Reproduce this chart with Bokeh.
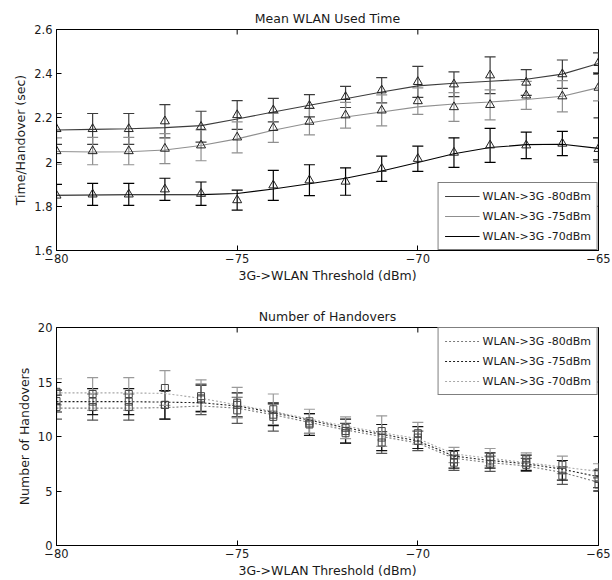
import math
from bokeh.plotting import figure
from bokeh.models import ColumnDataSource, Whisker, TeeHead, FixedTicker, Range1d
from bokeh.layouts import column
from bokeh.embed import file_html
from bokeh.resources import INLINE

# ---------------- data ----------------
thresholds = [-80, -79, -78, -77, -76, -75, -74, -73, -72, -71, -70, -69, -68, -67, -66, -65]
series_names = ["WLAN->3G -80dBm", "WLAN->3G -75dBm", "WLAN->3G -70dBm"]

# Mean WLAN used time (sec) - measured points
time_80 = [2.15, 2.15, 2.15, 2.185, 2.16, 2.213, 2.235, 2.255, 2.295, 2.325, 2.363, 2.352, 2.393, 2.36, 2.398, 2.449]
time_75 = [2.05, 2.05, 2.05, 2.061, 2.076, 2.112, 2.155, 2.183, 2.212, 2.234, 2.276, 2.249, 2.259, 2.302, 2.298, 2.337]
time_70 = [1.849, 1.854, 1.854, 1.877, 1.857, 1.828, 1.895, 1.918, 1.912, 1.97, 2.015, 2.043, 2.076, 2.076, 2.084, 2.06]
# smoothed curves (read at each threshold)
time_fit_80 = [2.145, 2.148, 2.151, 2.156, 2.165, 2.195, 2.227, 2.257, 2.287, 2.317, 2.345, 2.357, 2.366, 2.375, 2.398, 2.446]
time_fit_75 = [2.048, 2.046, 2.047, 2.055, 2.075, 2.105, 2.144, 2.177, 2.204, 2.227, 2.25, 2.263, 2.272, 2.283, 2.298, 2.337]
time_fit_70 = [1.85, 1.851, 1.852, 1.852, 1.853, 1.858, 1.878, 1.902, 1.927, 1.96, 1.998, 2.038, 2.066, 2.079, 2.081, 2.062]
# error half-widths
time_err_80 = [0.07, 0.07, 0.07, 0.075, 0.07, 0.065, 0.053, 0.05, 0.048, 0.057, 0.07, 0.056, 0.083, 0.058, 0.064, 0.045]
time_err_75 = [0.06, 0.062, 0.062, 0.068, 0.07, 0.07, 0.066, 0.06, 0.058, 0.07, 0.06, 0.065, 0.068, 0.063, 0.071, 0.06]
time_err_70 = [0.05, 0.05, 0.05, 0.05, 0.053, 0.045, 0.068, 0.07, 0.062, 0.057, 0.057, 0.067, 0.077, 0.06, 0.055, 0.05]

# Number of handovers - measured points
ho_80 = [12.7, 12.7, 12.7, 12.9, 13.4, 12.4, 11.8, 11.2, 10.3, 9.45, 9.6, 7.6, 7.5, 7.4, 6.4, 5.6]
ho_75 = [13.25, 13.2, 13.2, 12.9, 13.5, 12.9, 12.0, 11.1, 10.5, 9.9, 9.9, 7.9, 7.8, 7.6, 6.9, 6.1]
ho_70 = [14.1, 13.9, 13.9, 14.45, 13.7, 13.1, 12.5, 11.4, 10.8, 10.5, 10.3, 8.3, 8.1, 7.9, 7.4, 6.7]
ho_fit_80 = [12.6, 12.6, 12.6, 12.65, 12.8, 12.6, 12.0, 11.3, 10.6, 10.0, 9.4, 8.0, 7.6, 7.3, 6.7, 5.8]
ho_fit_75 = [13.2, 13.2, 13.2, 13.15, 13.1, 12.8, 12.2, 11.5, 10.8, 10.2, 9.6, 8.2, 7.8, 7.5, 7.0, 6.3]
ho_fit_70 = [14.0, 14.0, 14.0, 13.95, 13.5, 12.9, 12.3, 11.6, 10.95, 10.35, 9.8, 8.4, 8.0, 7.6, 7.2, 6.8]
ho_err_80 = [1.1, 1.2, 1.2, 1.3, 1.4, 1.2, 1.3, 0.9, 0.9, 1.0, 0.9, 0.7, 0.7, 0.6, 0.8, 0.6]
ho_err_75 = [1.0, 1.2, 1.2, 1.3, 1.2, 1.1, 1.0, 1.0, 1.1, 1.2, 1.0, 0.8, 0.7, 0.7, 0.9, 0.8]
ho_err_70 = [1.2, 1.5, 1.5, 1.6, 1.5, 1.4, 1.4, 1.1, 1.0, 1.4, 1.0, 0.7, 0.8, 0.6, 0.8, 0.8]

x_ticks = [-80, -75, -70, -65]
time_ticks = [1.6, 1.8, 2.0, 2.2, 2.4, 2.6]
time_tick_labels = ["1.6", "1.8", "2", "2.2", "2.4", "2.6"]
ho_ticks = [0, 5, 10, 15, 20]

FONT = "DejaVu Sans"
TXT = "#1a1a1a"


def style(p, yticks, ylabels=None, ylabel_standoff=4):
    p.xgrid.visible = False
    p.ygrid.visible = False
    p.outline_line_color = "black"
    p.outline_line_width = 1
    p.title.text_font = FONT
    p.title.text_font_size = "12.5px"
    p.title.text_font_style = "normal"
    p.title.text_color = TXT
    p.title.align = "center"
    p.title.standoff = 8
    for ax in (p.xaxis[0], p.yaxis[0]):
        ax.axis_label_text_font = FONT
        ax.axis_label_text_font_size = "12.5px"
        ax.axis_label_text_font_style = "normal"
        ax.axis_label_text_color = TXT
        ax.major_label_text_font = FONT
        ax.major_label_text_font_size = "11.5px"
        ax.major_label_text_color = TXT
        ax.major_tick_in = 5
        ax.major_tick_out = 0
        ax.minor_tick_line_color = None
        ax.axis_line_color = "black"
        ax.major_tick_line_color = "black"
    p.xaxis[0].ticker = FixedTicker(ticks=x_ticks)
    p.yaxis[0].ticker = FixedTicker(ticks=yticks)
    p.xaxis[0].major_label_standoff = 3
    p.yaxis[0].major_label_standoff = 4
    p.xaxis[0].axis_label_standoff = 2
    p.yaxis[0].axis_label_standoff = ylabel_standoff
    if ylabels is not None:
        p.yaxis[0].major_label_overrides = dict(zip(yticks, ylabels))
    # mirrored inward tick marks on the top and right frame edges
    p.ray(x=x_ticks, y=[p.y_range.end] * len(x_ticks), length=5, length_units="screen",
          angle=-math.pi / 2, line_color="black", line_width=1)
    p.ray(x=[p.x_range.end] * len(yticks), y=yticks, length=5, length_units="screen",
          angle=math.pi, line_color="black", line_width=1)


def legend_style(p, loc):
    lg = p.legend[0]
    lg.location = loc
    lg.margin = 0
    lg.padding = 6
    lg.spacing = 6
    lg.label_height = 14
    lg.glyph_height = 14
    lg.glyph_width = 35
    lg.label_standoff = 3
    lg.label_text_font = FONT
    lg.label_text_font_size = "11px"
    lg.label_text_color = TXT
    lg.border_line_color = "black"
    lg.border_line_width = 1
    lg.background_fill_alpha = 1


# ---------------- top figure ----------------
p1 = figure(width=612, height=290, output_backend="svg", toolbar_location=None,
            title="Mean WLAN Used Time", x_range=Range1d(-80, -65), y_range=Range1d(1.6, 2.6),
            x_axis_label="3G->WLAN Threshold (dBm)", y_axis_label="Time/Handover (sec)",
            min_border_left=56, min_border_right=14, min_border_top=29, min_border_bottom=40)
style(p1, time_ticks, time_tick_labels, ylabel_standoff=3)

top_colors = ["#3c3c3c", "#8f8f8f", "#000000"]
for vals, fit, err, col, name in zip((time_80, time_75, time_70),
                                     (time_fit_80, time_fit_75, time_fit_70),
                                     (time_err_80, time_err_75, time_err_70),
                                     top_colors, series_names):
    src = ColumnDataSource(dict(x=thresholds, y=vals,
                                lo=[v - e for v, e in zip(vals, err)],
                                hi=[v + e for v, e in zip(vals, err)]))
    p1.add_layout(Whisker(source=src, base="x", lower="lo", upper="hi", line_color=col, line_width=1.2,
                          upper_head=TeeHead(size=11, line_color=col, line_width=1.2),
                          lower_head=TeeHead(size=11, line_color=col, line_width=1.2)))
    p1.line(thresholds, fit, line_color=col, line_width=1.1, legend_label=name)
    p1.scatter("x", "y", source=src, marker="triangle", size=9, fill_color=None,
               line_color="#222222", line_width=1)
legend_style(p1, "bottom_right")

# ---------------- bottom figure ----------------
p2 = figure(width=612, height=290, output_backend="svg", toolbar_location=None,
            title="Number of Handovers", x_range=Range1d(-80, -65), y_range=Range1d(0, 20),
            x_axis_label="3G->WLAN Threshold (dBm)", y_axis_label="Number of Handovers",
            min_border_left=56, min_border_right=14, min_border_top=37, min_border_bottom=33)
style(p2, ho_ticks, ylabel_standoff=3)

bot_colors = ["#7a7a7a", "#1e1e1e", "#a8a8a8"]
err_colors = ["#555555", "#111111", "#9a9a9a"]
for vals, fit, err, col, ecol, name in zip((ho_80, ho_75, ho_70),
                                           (ho_fit_80, ho_fit_75, ho_fit_70),
                                           (ho_err_80, ho_err_75, ho_err_70),
                                           bot_colors, err_colors, series_names):
    src = ColumnDataSource(dict(x=thresholds, y=vals,
                                lo=[v - e for v, e in zip(vals, err)],
                                hi=[v + e for v, e in zip(vals, err)]))
    p2.add_layout(Whisker(source=src, base="x", lower="lo", upper="hi", line_color=ecol, line_width=1.2,
                          upper_head=TeeHead(size=11, line_color=ecol, line_width=1.2),
                          lower_head=TeeHead(size=11, line_color=ecol, line_width=1.2)))
    p2.line(thresholds, fit, line_color=col, line_width=1.1, line_dash="2 2", legend_label=name)
    p2.scatter("x", "y", source=src, marker="square", size=7, fill_color=None,
               line_color="#444444", line_width=1)
legend_style(p2, "top_right")

layout = column(p1, p2, spacing=0)
open("out.html", "w").write(file_html(layout, INLINE))
